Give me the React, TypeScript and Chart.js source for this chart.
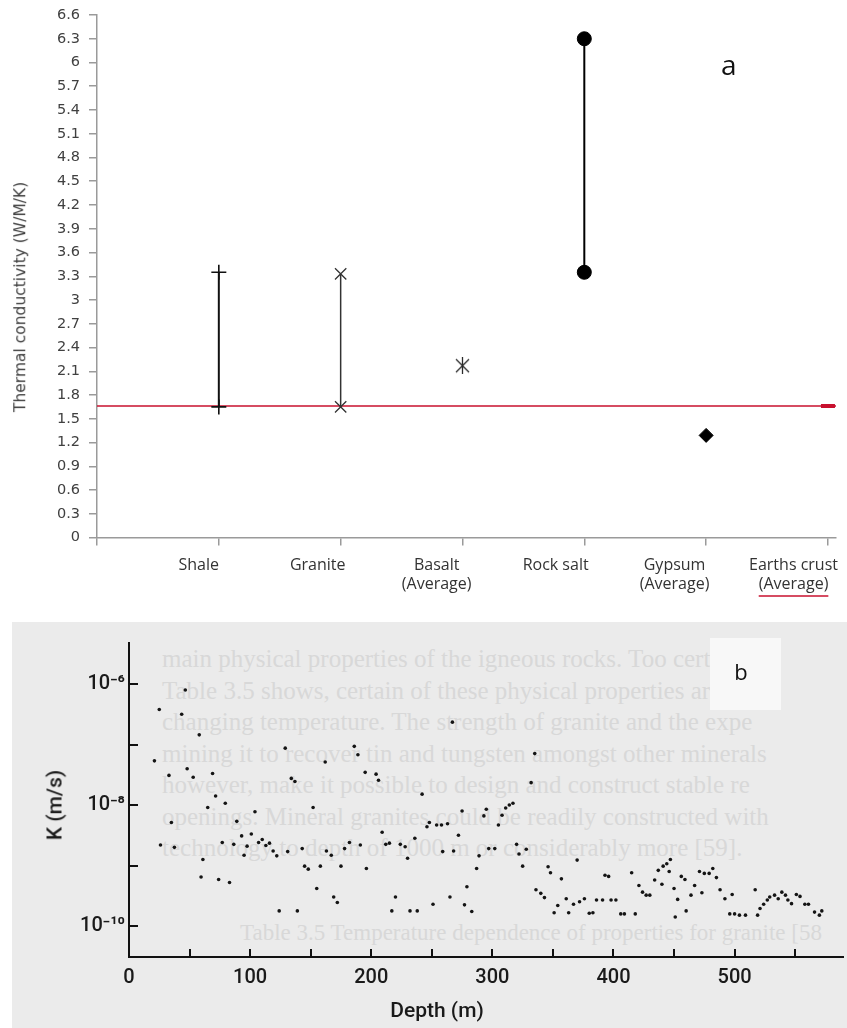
import React, { useEffect, useRef } from "react";
import { Chart, registerables } from "chart.js";

Chart.register(...registerables);

// ---------- Chart a: thermal conductivity ----------
const ROCK_LABELS: string[][] = [
  ["Shale"],
  ["Granite"],
  ["Basalt", "(Average)"],
  ["Rock salt"],
  ["Gypsum", "(Average)"],
  ["Earths crust", "(Average)"],
];
const RANGE_MIN: (number | null)[] = [1.65, 1.65, null, 3.35, null, null];
const RANGE_MAX: (number | null)[] = [3.35, 3.33, null, 6.3, null, null];
const AVERAGE: (number | null)[] = [null, null, 2.17, null, 1.29, 1.66];
const CRUST_AVERAGE = 1.66;
const CONDUCTIVITY_TICKS = [
  0, 0.3, 0.6, 0.9, 1.2, 1.5, 1.8, 2.1, 2.4, 2.7, 3, 3.3, 3.6, 3.9, 4.2, 4.5,
  4.8, 5.1, 5.4, 5.7, 6, 6.3, 6.6,
];
const CATEGORY_TICKS = [0, 1, 2, 3, 4, 5, 6];

// ---------- Chart b: hydraulic conductivity vs depth ----------
const DEPTH_M = [
  21, 25, 26, 33, 35, 37.5, 43.5, 46.5, 48, 53, 58, 59.5, 61, 65, 69, 71.5, 74,
  77, 79.5, 83, 86.5, 89, 93, 95, 97.5, 101, 104, 107, 110, 113, 116, 119, 122,
  124, 129, 131, 134, 137, 139, 143, 145, 148, 152, 155, 158, 162, 163, 167,
  169, 172, 175, 178, 182, 186, 189, 191, 195, 196, 204, 206, 209, 212, 215,
  217, 220, 224, 228, 230, 232, 236, 238, 242, 246, 248, 251, 254, 258, 259,
  263, 265, 267, 268, 272, 275, 277, 279, 283, 287, 289, 293, 295, 297, 302,
  305, 308, 311, 314, 317, 320, 322, 325, 328, 332, 335, 336, 340, 343, 346,
  348, 351, 354, 357, 361, 363, 367, 370, 372, 376, 380, 383, 386, 391, 393,
  396, 398, 402, 406, 409, 415, 418, 421, 424, 427, 430, 434, 437, 440, 441,
  444, 446, 447, 450, 451, 453, 456, 459, 460, 464, 467, 471, 473, 475, 479,
  482, 485, 488, 492, 496, 498, 500, 504, 509, 517, 519, 521, 524, 527, 529,
  533, 536, 539, 542, 544, 547, 551, 554, 558, 561, 566, 570, 572,
];
const LOG10_K = [
  -7.27, -6.42, -8.66, -7.51, -8.29, -8.7, -6.5, -6.1, -7.4, -7.54, -6.84,
  -9.19, -8.9, -8.04, -7.48, -7.85, -9.23, -8.62, -7.97, -9.28, -8.65, -8.27,
  -8.51, -8.83, -8.68, -8.48, -8.11, -8.62, -8.57, -8.67, -8.63, -8.76, -8.84,
  -9.75, -7.06, -8.77, -7.56, -7.61, -9.75, -8.72, -9.01, -9.06, -8.04, -9.38,
  -9.01, -7.29, -8.76, -8.83, -9.52, -9.61, -9.01, -8.72, -8.62, -7.03, -7.17,
  -8.66, -7.46, -9.05, -7.49, -7.59, -8.45, -8.65, -8.63, -9.75, -9.52, -8.65,
  -8.69, -8.88, -9.75, -8.55, -9.75, -7.82, -8.36, -8.29, -9.64, -8.33, -8.33,
  -8.77, -8.31, -9.52, -6.63, -8.76, -8.5, -8.1, -9.65, -9.35, -9.76, -9.05,
  -8.84, -8.18, -8.07, -8.72, -8.72, -8.33, -8.17, -8.05, -8.0, -7.97, -8.65,
  -8.81, -9.01, -8.73, -7.63, -7.15, -9.4, -9.46, -9.53, -9.02, -9.12, -9.78,
  -9.66, -9.22, -9.55, -9.78, -9.64, -8.91, -9.6, -9.55, -9.79, -9.78, -9.57,
  -9.57, -9.16, -9.18, -9.57, -9.57, -9.8, -9.8, -9.12, -9.8, -9.33, -9.44,
  -9.49, -9.49, -9.24, -9.08, -9.31, -9.01, -8.97, -9.1, -8.9, -9.38, -9.85,
  -9.56, -9.18, -9.23, -9.75, -9.49, -9.33, -9.1, -9.45, -9.13, -9.13, -9.05,
  -9.2, -9.4, -9.55, -9.8, -9.48, -9.8, -9.82, -9.82, -9.4, -9.82, -9.71,
  -9.64, -9.57, -9.52, -9.49, -9.55, -9.44, -9.49, -9.57, -9.63, -9.48, -9.51,
  -9.64, -9.64, -9.77, -9.82, -9.75,
];
const DEPTH_TICKS = [0, 50, 100, 150, 200, 250, 300, 350, 400, 450, 500, 550];
const DEPTH_LABELED = [0, 100, 200, 300, 400, 500];
const K_TICK_EXPONENTS = [-10, -9, -8, -7, -6];
const K_LABELED_EXPONENTS = [-10, -8, -6];

const PAGE_LINES = [
  "main physical properties of the igneous rocks. Too certain e",
  "Table 3.5 shows, certain of these physical properties are a",
  "changing temperature. The strength of granite and the expe",
  "mining it to recover tin and tungsten amongst other minerals",
  "however, make it possible to design and construct stable re",
  "openings. Mineral granites could be readily constructed with",
  "technology to depth of 1000 m or considerably more [59].",
];
const PAGE_CAPTION = "Table 3.5   Temperature dependence of properties for granite [58";

const RED = "#c8102e";
const AXIS_GREY = "#9a9a9a";

const SUP: Record<string, string> = {
  "-": "\u207B", "0": "\u2070", "1": "\u00B9", "2": "\u00B2", "3": "\u00B3",
  "4": "\u2074", "5": "\u2075", "6": "\u2076", "7": "\u2077", "8": "\u2078", "9": "\u2079",
};
const sup = (s: string) => s.split("").map((c) => SUP[c] ?? c).join("");

function zeroPad(s: any) {
  s.paddingLeft = 0;
  s.paddingRight = 0;
  s.paddingTop = 0;
  s.paddingBottom = 0;
}

function makeBasaltMarker(): HTMLCanvasElement {
  const c = document.createElement("canvas");
  c.width = 15;
  c.height = 17;
  const g = c.getContext("2d")!;
  g.strokeStyle = "#2b2b2b";
  g.lineWidth = 1.3;
  g.beginPath();
  g.moveTo(1, 2);
  g.lineTo(14, 15);
  g.moveTo(14, 2);
  g.lineTo(1, 15);
  g.moveTo(7.5, 0);
  g.lineTo(7.5, 17);
  g.stroke();
  return c;
}

const X2_PAD = 10;
const X2_LINE = 19;
const LABEL_FONT = "'Open Sans', 'Noto Sans', sans-serif";

export default function App() {
  const refA = useRef<HTMLCanvasElement | null>(null);
  const refB = useRef<HTMLCanvasElement | null>(null);

  useEffect(() => {
    const xMaxA = 6.066;
    const markerStyles: any[] = [
      { pointStyle: "cross", pointRadius: 7.5, pointBorderColor: "#111", pointBorderWidth: 1.6, borderColor: "#111", borderWidth: 2 },
      { pointStyle: "crossRot", pointRadius: 8, pointBorderColor: "#333", pointBorderWidth: 1.3, borderColor: "#333", borderWidth: 1.5 },
      { pointStyle: makeBasaltMarker(), pointRadius: 8 },
      { pointStyle: "circle", pointRadius: 7, pointBackgroundColor: "#000", pointBorderColor: "#000", pointBorderWidth: 1, borderColor: "#000", borderWidth: 2 },
      { pointStyle: "rectRot", pointRadius: 7, pointBackgroundColor: "#000", pointBorderColor: "#000", pointBorderWidth: 1 },
      { pointStyle: "line", pointRadius: 7, pointBorderColor: RED, pointBorderWidth: 4 },
    ];
    const datasetsA: any[] = ROCK_LABELS.map((lab, i) => {
      const x = i + 1;
      const lo = RANGE_MIN[i];
      const hi = RANGE_MAX[i];
      const data = lo != null && hi != null ? [{ x, y: lo }, { x, y: hi }] : [{ x, y: AVERAGE[i] as number }];
      return {
        label: lab.join(" "),
        data,
        showLine: data.length > 1,
        ...markerStyles[i],
      };
    });
    datasetsA.push({
      label: "Earths crust average line",
      data: [{ x: 0, y: CRUST_AVERAGE }, { x: xMaxA, y: CRUST_AVERAGE }],
      showLine: true,
      borderColor: RED,
      borderWidth: 1.5,
      pointRadius: 0,
    });

    const underline = {
      id: "crustUnderline",
      afterDraw(chart: any) {
        const s = chart.scales.x2;
        const ctx = chart.ctx;
        const px = s.getPixelForValue(6);
        ctx.save();
        ctx.font = `16px ${LABEL_FONT}`;
        const w = ctx.measureText("(Average)").width;
        const y = s.top + X2_PAD + X2_LINE * 1.5 + 12;
        ctx.strokeStyle = RED;
        ctx.lineWidth = 1.5;
        ctx.beginPath();
        ctx.moveTo(px - w / 2, y);
        ctx.lineTo(px + w / 2, y);
        ctx.stroke();
        ctx.restore();
      },
    };

    const chartA = new Chart(refA.current!, {
      type: "scatter",
      data: { datasets: datasetsA },
      options: {
        responsive: false,
        animation: false,
        devicePixelRatio: 1,
        layout: { padding: { top: 15, right: 2, left: 0, bottom: 0 } },
        elements: { line: { tension: 0 } },
        plugins: { legend: { display: false }, tooltip: { enabled: false } },
        scales: {
          x: {
            type: "linear",
            position: "bottom",
            weight: 0,
            min: 0,
            max: xMaxA,
            afterBuildTicks: (s: any) => { s.ticks = CATEGORY_TICKS.map((v) => ({ value: v })); },
            afterFit: (s: any) => { s.height = 8; zeroPad(s); },
            ticks: { display: false },
            grid: { drawOnChartArea: false, drawTicks: true, tickLength: 8, color: AXIS_GREY, lineWidth: 1.5 },
            border: { display: true, color: AXIS_GREY, width: 1.5 },
          },
          x2: {
            type: "linear",
            position: "bottom",
            weight: 1,
            min: 0.1445,
            max: 6.357,
            afterBuildTicks: (s: any) => { s.ticks = ROCK_LABELS.map((_, i) => ({ value: i + 1 })); },
            afterFit: (s: any) => { s.height = 64.5; zeroPad(s); },
            ticks: {
              autoSkip: false,
              maxRotation: 0,
              minRotation: 0,
              padding: X2_PAD,
              color: "#333",
              font: { family: LABEL_FONT, size: 16, lineHeight: X2_LINE / 16 },
              callback: (v: any) => ROCK_LABELS[Math.round(Number(v)) - 1],
            },
            grid: { display: false, drawTicks: false },
            border: { display: false },
          },
          y: {
            type: "linear",
            min: 0,
            max: 6.6,
            afterBuildTicks: (s: any) => { s.ticks = CONDUCTIVITY_TICKS.map((v) => ({ value: v })); },
            afterFit: (s: any) => { s.width = 97; zeroPad(s); },
            ticks: {
              autoSkip: false,
              padding: 9,
              color: "#404040",
              font: { family: "'DejaVu Sans', Verdana, sans-serif", size: 14.5 },
              callback: (v: any) => String(v),
            },
            grid: { drawOnChartArea: false, drawTicks: true, tickLength: 8, color: AXIS_GREY, lineWidth: 1.5 },
            border: { display: true, color: AXIS_GREY, width: 1.5 },
          },
        } as any,
      },
      plugins: [underline],
    } as any);

    const chartB = new Chart(refB.current!, {
      type: "scatter",
      data: {
        datasets: [
          {
            label: "K",
            data: DEPTH_M.map((d, i) => ({ x: d, y: Math.pow(10, LOG10_K[i]) })),
            pointRadius: 1.8,
            pointBackgroundColor: "#141414",
            pointBorderWidth: 0,
          },
        ],
      },
      options: {
        responsive: false,
        animation: false,
        devicePixelRatio: 1,
        layout: { padding: { top: 21, right: 0, left: 0, bottom: 0 } },
        plugins: { legend: { display: false }, tooltip: { enabled: false } },
        scales: {
          x: {
            type: "linear",
            min: 0,
            max: 589.5,
            afterBuildTicks: (s: any) => { s.ticks = DEPTH_TICKS.map((v) => ({ value: v })); },
            afterFit: (s: any) => { s.height = 71; zeroPad(s); },
            ticks: {
              autoSkip: false,
              maxRotation: 0,
              minRotation: 0,
              padding: 17,
              color: "#1a1a1a",
              font: { family: "Roboto, 'DejaVu Sans', sans-serif", size: 20, weight: "500" as any },
              callback: (v: any) => (DEPTH_LABELED.includes(Number(v)) ? String(v) : ""),
            },
            grid: { drawOnChartArea: false, drawTicks: true, tickLength: -8, color: "#111", lineWidth: 2 },
            border: { display: true, color: "#111", width: 2 },
          },
          y: {
            type: "logarithmic",
            min: Math.pow(10, -10.512),
            max: Math.pow(10, -5.322),
            afterBuildTicks: (s: any) => { s.ticks = K_TICK_EXPONENTS.map((e) => ({ value: Math.pow(10, e) })); },
            afterFit: (s: any) => { s.width = 117; zeroPad(s); },
            ticks: {
              autoSkip: false,
              padding: 13,
              color: "#1a1a1a",
              font: { family: "Roboto, 'DejaVu Sans', sans-serif", size: 20, weight: "500" as any },
              callback: (v: any) => {
                const e = Math.round(Math.log10(Number(v)));
                return K_LABELED_EXPONENTS.includes(e) ? "10" + sup(String(e)) : "";
              },
            },
            grid: { drawOnChartArea: false, drawTicks: true, tickLength: -9, color: "#111", lineWidth: 2 },
            border: { display: true, color: "#111", width: 2 },
          },
        } as any,
      },
    } as any);

    return () => {
      chartA.destroy();
      chartB.destroy();
    };
  }, []);

  const abs = (o: React.CSSProperties): React.CSSProperties => ({ position: "absolute", ...o });

  return (
    <div style={abs({ left: 0, top: 0, width: 847, height: 1028, overflow: "hidden", background: "#fff" })}>
      <canvas ref={refA} width={847} height={610} style={abs({ left: 0, top: 0, width: 847, height: 610 })} />
      <div
        style={abs({
          left: 21,
          top: 297,
          transform: "translate(-50%, -50%) rotate(-90deg)",
          whiteSpace: "nowrap",
          font: "15.5px 'DejaVu Sans', Verdana, sans-serif",
          color: "#404040",
          lineHeight: 1,
        })}
      >
        Thermal conductivity (W/M/K)
      </div>
      <div style={abs({ left: 721, top: 50, font: "28px 'Open Sans', sans-serif", lineHeight: 1, color: "#111" })}>a</div>

      <div style={abs({ left: 12, top: 622, width: 835, height: 406, background: "#ebebeb", overflow: "hidden" })}>
        {PAGE_LINES.map((t, i) => (
          <div
            key={i}
            style={abs({
              left: 150,
              top: 22 + i * 31.5,
              whiteSpace: "nowrap",
              font: "25px 'Liberation Serif', serif",
              color: "#d8d8d8",
              lineHeight: "30px",
            })}
          >
            {t}
          </div>
        ))}
        <div style={abs({ left: 228, top: 296, whiteSpace: "nowrap", font: "23px 'Liberation Serif', serif", color: "#d8d8d8", lineHeight: "30px" })}>
          {PAGE_CAPTION}
        </div>
        <div style={abs({ left: 698, top: 16, width: 71, height: 72, background: "#f8f8f8" })} />
      </div>
      <canvas ref={refB} width={835} height={406} style={abs({ left: 12, top: 622, width: 835, height: 406 })} />
      <div style={abs({ left: 741, top: 671, transform: "translate(-50%, -50%)", font: "22px 'Open Sans', sans-serif", lineHeight: 1, color: "#111" })}>b</div>
      <div
        style={abs({
          left: 55,
          top: 805,
          transform: "translate(-50%, -50%) rotate(-90deg)",
          whiteSpace: "nowrap",
          font: "500 21px Roboto, sans-serif",
          color: "#1a1a1a",
          lineHeight: 1,
        })}
      >
        K (m/s)
      </div>
      <div
        style={abs({
          left: 437,
          top: 1010,
          transform: "translate(-50%, -50%)",
          whiteSpace: "nowrap",
          font: "500 21px Roboto, sans-serif",
          color: "#1a1a1a",
          lineHeight: 1,
        })}
      >
        Depth (m)
      </div>
    </div>
  );
}
